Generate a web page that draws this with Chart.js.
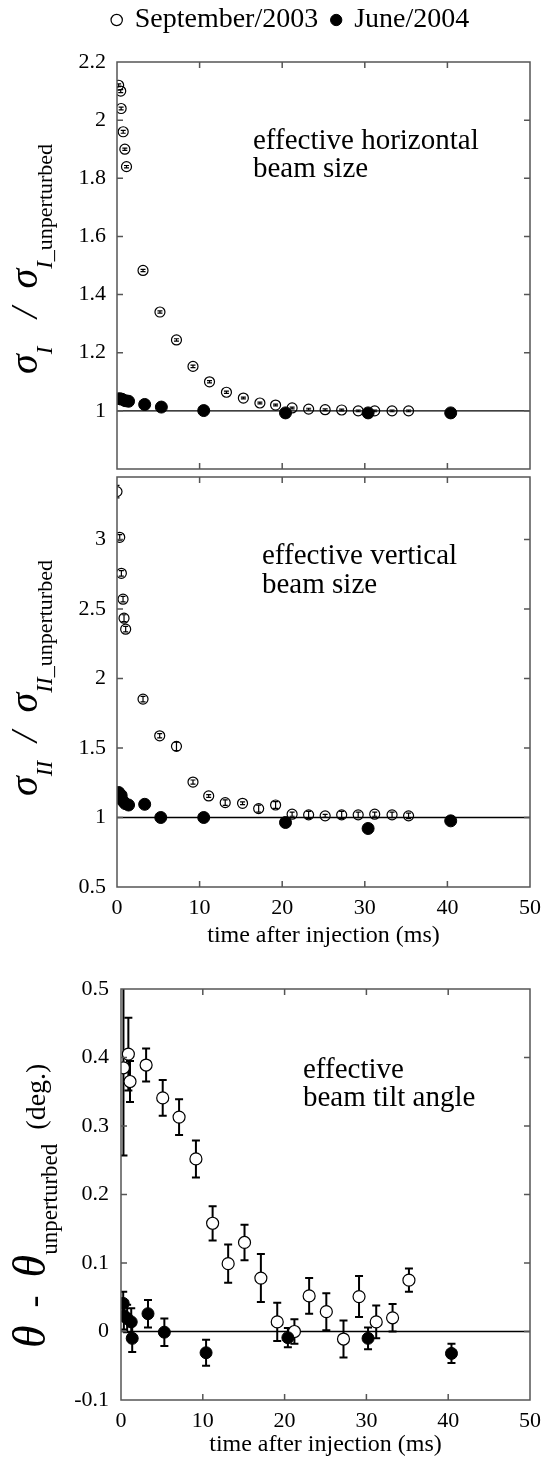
<!DOCTYPE html>
<html>
<head>
<meta charset="utf-8">
<script src="https://cdn.jsdelivr.net/npm/chart.js@4.4.1/dist/chart.umd.min.js"></script>
<style>
body { margin: 0; background: #fff; }
#wrap { position: relative; width: 544px; height: 1459px; }
canvas { position: absolute; left: 0; }
</style>
</head>
<body>
<div id="wrap">
<canvas id="chartH" width="544" height="476" style="top:0px"></canvas>
<canvas id="chartV" width="544" height="480" style="top:470px"></canvas>
<canvas id="chartT" width="544" height="499" style="top:960px"></canvas>
</div>
<script>
// ---- datos ----
const timeTicks = [0, 10, 20, 30, 40, 50];
const timeTickLabels = ['0', '10', '20', '30', '40', '50'];

// tamaño horizontal
const hTicks = [1, 1.2, 1.4, 1.6, 1.8, 2, 2.2];
const hTickLabels = ['1', '1.2', '1.4', '1.6', '1.8', '2', '2.2'];
const hSepX = [0.2, 0.45, 0.5, 0.75, 0.95, 1.15, 3.15, 5.2, 7.2, 9.2, 11.2, 13.25, 15.3, 17.3, 19.2, 21.2, 23.2, 25.2, 27.2, 29.2, 31.2, 33.3, 35.3];
const hSepY = [2.12, 2.10, 2.04, 1.96, 1.90, 1.84, 1.483, 1.34, 1.244, 1.153, 1.10, 1.064, 1.044, 1.027, 1.02, 1.01, 1.006, 1.004, 1.003, 1.0, 1.0, 1.0, 1.0];
const hSepErr = [0.005, 0.005, 0.005, 0.005, 0.004, 0.004, 0.004, 0.004, 0.004, 0.004, 0.004, 0.004, 0.003, 0.003, 0.003, 0.003, 0.003, 0.003, 0.003, 0.003, 0.003, 0.003, 0.003];
const hJunX = [0.3, 0.6, 1.0, 1.4, 3.35, 5.37, 10.5, 20.4, 30.4, 40.4];
const hJunY = [1.042, 1.040, 1.035, 1.033, 1.022, 1.013, 1.001, 0.993, 0.993, 0.993];

// tamaño vertical
const vTicks = [0.5, 1, 1.5, 2, 2.5, 3];
const vTickLabels = ['0.5', '1', '1.5', '2', '2.5', '3'];
const vSepX = [0.0, 0.33, 0.53, 0.73, 0.85, 1.05, 3.15, 5.17, 7.2, 9.2, 11.1, 13.1, 15.2, 17.15, 19.2, 21.2, 23.2, 25.2, 27.2, 29.2, 31.2, 33.3, 35.3];
const vSepY = [3.345, 3.016, 2.757, 2.571, 2.434, 2.355, 1.852, 1.588, 1.512, 1.255, 1.155, 1.107, 1.102, 1.064, 1.09, 1.024, 1.019, 1.012, 1.019, 1.019, 1.024, 1.019, 1.012];
const vSepErr = [0.045, 0.02, 0.02, 0.02, 0.025, 0.02, 0.02, 0.015, 0.03, 0.015, 0.01, 0.02, 0.01, 0.025, 0.025, 0.015, 0.025, 0.01, 0.025, 0.02, 0.015, 0.02, 0.02];
const vJunX = [0.2, 0.5, 0.7, 1.0, 1.4, 3.35, 5.3, 10.5, 20.4, 30.4, 40.4];
const vJunY = [1.18, 1.16, 1.12, 1.10, 1.09, 1.095, 1.0, 1.0, 0.964, 0.921, 0.976];

// ángulo de inclinación
const tTicks = [-0.1, 0, 0.1, 0.2, 0.3, 0.4, 0.5];
const tTickLabels = ['-0.1', '0', '0.1', '0.2', '0.3', '0.4', '0.5'];
const tSepX = [0.3, 0.9, 1.1, 3.07, 5.1, 7.1, 9.16, 11.2, 13.1, 15.1, 17.1, 19.1, 21.2, 23.0, 25.1, 27.2, 29.1, 31.2, 33.2, 35.2];
const tSepY = [0.385, 0.405, 0.365, 0.389, 0.341, 0.313, 0.252, 0.158, 0.099, 0.13, 0.078, 0.014, 0.0, 0.052, 0.029, -0.011, 0.051, 0.014, 0.02, 0.075];
const tSepErr = [0.128, 0.053, 0.03, 0.024, 0.026, 0.026, 0.027, 0.025, 0.028, 0.026, 0.035, 0.028, 0.018, 0.026, 0.027, 0.027, 0.03, 0.024, 0.02, 0.017];
const tJunX = [0.27, 0.35, 0.75, 1.25, 1.37, 3.3, 5.3, 10.4, 20.4, 30.2, 40.4];
const tJunY = [0.041, 0.023, 0.019, 0.014, -0.01, 0.026, -0.001, -0.031, -0.009, -0.01, -0.032];
const tJunErr = [0.017, 0.02, 0.02, 0.02, 0.02, 0.02, 0.02, 0.019, 0.014, 0.016, 0.014];

const SERIF = '"Liberation Serif", "DejaVu Serif", serif';

function toPoints(xs, ys) {
    return xs.map((x, i) => ({ x: x, y: ys[i] }));
}

// barras de error
const errorBars = {
    id: 'errorBars',
    beforeDatasetsDraw(chart, args, opts) {
        if (!opts.onTop) drawErrors(chart, opts);
    },
    afterDatasetsDraw(chart, args, opts) {
        if (opts.onTop) drawErrors(chart, opts);
    }
};

function drawErrors(chart, opts) {
    const ctx = chart.ctx;
    const area = chart.chartArea;
    const yScale = chart.scales.y;
    ctx.save();
    ctx.beginPath();
    ctx.rect(area.left, area.top, area.right - area.left, area.bottom - area.top);
    ctx.clip();
    ctx.strokeStyle = '#000';
    ctx.lineWidth = opts.lineWidth || 1.5;
    chart.data.datasets.forEach((ds, i) => {
        if (!ds.errors) return;
        const meta = chart.getDatasetMeta(i);
        meta.data.forEach((pt, j) => {
            const e = ds.errors[j];
            const v = ds.data[j].y;
            const y1 = yScale.getPixelForValue(v + e);
            const y2 = yScale.getPixelForValue(v - e);
            const c = opts.cap || 3;
            ctx.beginPath();
            ctx.moveTo(pt.x, y1); ctx.lineTo(pt.x, y2);
            ctx.moveTo(pt.x - c, y1); ctx.lineTo(pt.x + c, y1);
            ctx.moveTo(pt.x - c, y2); ctx.lineTo(pt.x + c, y2);
            ctx.stroke();
        });
    });
    ctx.restore();
}

// marco con marcas hacia dentro
const frameBox = {
    id: 'frameBox',
    afterDraw(chart) {
        const ctx = chart.ctx;
        const a = chart.chartArea;
        const xs = chart.scales.x;
        const ys = chart.scales.y;
        const len = 6;
        ctx.save();
        ctx.strokeStyle = '#555';
        ctx.lineWidth = 1.5;
        ctx.strokeRect(a.left, a.top, a.right - a.left, a.bottom - a.top);
        ctx.beginPath();
        xs.ticks.forEach(t => {
            const px = xs.getPixelForValue(t.value);
            if (px <= a.left + 1 || px >= a.right - 1) return;
            ctx.moveTo(px, a.top); ctx.lineTo(px, a.top + len);
            ctx.moveTo(px, a.bottom); ctx.lineTo(px, a.bottom - len);
        });
        ys.ticks.forEach(t => {
            const py = ys.getPixelForValue(t.value);
            if (py <= a.top + 1 || py >= a.bottom - 1) return;
            ctx.moveTo(a.left, py); ctx.lineTo(a.left + len, py);
            ctx.moveTo(a.right, py); ctx.lineTo(a.right - len, py);
        });
        ctx.stroke();
        ctx.restore();
    }
};

// espacio extra bajo la leyenda
const legendGap = {
    id: 'legendGap',
    beforeLayout(chart, args, opts) {
        const lg = chart.legend;
        if (!lg || lg.__gap || !opts.extra) return;
        const fit = lg.fit;
        lg.fit = function () {
            fit.call(this);
            this.height += opts.extra;
        };
        lg.__gap = true;
    }
};

// textos con subíndices y rotación
const richText = {
    id: 'richText',
    afterDraw(chart, args, opts) {
        const ctx = chart.ctx;
        (opts.items || []).forEach(item => {
            ctx.save();
            ctx.fillStyle = '#000';
            ctx.textAlign = 'left';
            ctx.textBaseline = 'alphabetic';
            ctx.translate(item.x, item.y);
            if (item.rotate) ctx.rotate(-Math.PI / 2);
            let cx = 0;
            item.runs.forEach(r => {
                ctx.font = r.font;
                ctx.fillText(r.text, cx, r.dy || 0);
                cx += ctx.measureText(r.text).width;
            });
            ctx.restore();
        });
    }
};

function makePanel(id, o) {
    const datasets = [
        {
            label: 'September/2003',
            data: toPoints(o.sepX, o.sepY),
            errors: o.sepErr,
            pointStyle: 'circle',
            pointRadius: o.openR,
            pointBorderWidth: 1.2,
            borderColor: '#000',
            backgroundColor: o.openFill,
            pointBorderColor: '#000',
            pointBackgroundColor: o.openFill,
            showLine: false,
            order: 2
        },
        {
            label: 'June/2004',
            data: toPoints(o.junX, o.junY),
            errors: o.junErr,
            pointStyle: 'circle',
            pointRadius: o.fillR,
            pointBorderWidth: 1,
            borderColor: '#000',
            backgroundColor: '#000',
            pointBackgroundColor: '#000',
            pointBorderColor: '#000',
            showLine: false,
            order: 1
        },
        {
            label: 'ref',
            data: [{ x: 0, y: o.refY }, { x: 50, y: o.refY }],
            showLine: true,
            pointRadius: 0,
            borderColor: '#000',
            borderWidth: 1.3,
            order: 3
        }
    ];

    return new Chart(document.getElementById(id), {
        type: 'scatter',
        data: { datasets: datasets },
        plugins: [errorBars, frameBox, richText, legendGap],
        options: {
            responsive: false,
            animation: false,
            devicePixelRatio: 1,
            layout: { padding: { top: o.padTop, right: 14, bottom: 0, left: o.padLeft } },
            plugins: {
                legend: {
                    display: !!o.legend,
                    labels: {
                        filter: item => item.text !== 'ref',
                        sort: (a, b) => a.datasetIndex - b.datasetIndex,
                        usePointStyle: true,
                        boxWidth: 8,
                        boxHeight: 8,
                        padding: 14,
                        color: '#000',
                        font: { family: SERIF, size: 28 }
                    }
                },
                legendGap: { extra: o.legend ? 18 : 0 },
                tooltip: { enabled: false },
                errorBars: { onTop: o.errOnTop, lineWidth: o.errWidth, cap: o.cap },
                richText: { items: o.texts }
            },
            scales: {
                x: {
                    type: 'linear',
                    min: 0,
                    max: 50,
                    afterBuildTicks: s => { s.ticks = timeTicks.map(v => ({ value: v })); },
                    afterFit: s => { s.height = o.xHeight; s.paddingLeft = 0; s.paddingRight = 0; },
                    grid: { display: false, drawTicks: false },
                    border: { display: false },
                    ticks: {
                        display: o.showX,
                        autoSkip: false,
                        maxRotation: 0,
                        padding: 8,
                        color: '#000',
                        font: { family: SERIF, size: 22 },
                        callback: (v, i) => timeTickLabels[i]
                    },
                    title: {
                        display: o.showX,
                        text: 'time after injection (ms)',
                        color: '#000',
                        font: { family: SERIF, size: 24 },
                        padding: 0
                    }
                },
                y: {
                    type: 'linear',
                    min: o.yMin,
                    max: o.yMax,
                    afterBuildTicks: s => { s.ticks = o.yTicks.map(v => ({ value: v })); },
                    afterFit: s => { s.width = o.yWidth - o.padLeft; s.paddingTop = 0; s.paddingBottom = 0; },
                    grid: { display: false, drawTicks: false },
                    border: { display: false },
                    ticks: {
                        autoSkip: false,
                        padding: o.yPad,
                        color: '#000',
                        font: { family: SERIF, size: 22 },
                        callback: (v, i) => o.yLabels[i]
                    }
                }
            }
        }
    });
}

const ital = s => 'italic ' + s + 'px ' + SERIF;
const rom = s => s + 'px ' + SERIF;

makePanel('chartH', {
    sepX: hSepX, sepY: hSepY, sepErr: hSepErr,
    junX: hJunX, junY: hJunY, junErr: null,
    refY: 1, yMin: 0.8, yMax: 2.2, yTicks: hTicks, yLabels: hTickLabels,
    yWidth: 117, padLeft: 52, yPad: 11, padTop: -8, xHeight: 6, showX: false, legend: true,
    openR: 5, fillR: 6, openFill: 'rgba(255,255,255,0)', errOnTop: true, errWidth: 1.2, cap: 2.5,
    texts: [
        { x: 253, y: 149, runs: [{ text: 'effective horizontal', font: rom(29) }] },
        { x: 253, y: 177, runs: [{ text: 'beam size', font: rom(29) }] },
        { x: 37, y: 374, rotate: true, runs: [
            { text: 'σ', font: ital(40) },
            { text: 'I', font: ital(23), dy: 15 },
            { text: '   /  ', font: ital(38) },
            { text: 'σ', font: ital(40) },
            { text: 'I', font: ital(23), dy: 15 },
            { text: '_unperturbed', font: rom(22), dy: 15 }
        ] }
    ]
});

makePanel('chartV', {
    sepX: vSepX, sepY: vSepY, sepErr: vSepErr,
    junX: vJunX, junY: vJunY, junErr: null,
    refY: 1, yMin: 0.5, yMax: 3.45, yTicks: vTicks, yLabels: vTickLabels,
    yWidth: 117, padLeft: 0, yPad: 11, padTop: 5, xHeight: 63, showX: true, legend: false,
    openR: 5, fillR: 6, openFill: 'rgba(255,255,255,0)', errOnTop: true, errWidth: 1.2, cap: 2.5,
    texts: [
        { x: 262, y: 94, runs: [{ text: 'effective vertical', font: rom(29) }] },
        { x: 262, y: 123, runs: [{ text: 'beam size', font: rom(29) }] },
        { x: 37, y: 326, rotate: true, runs: [
            { text: 'σ', font: ital(40) },
            { text: 'II', font: ital(23), dy: 15 },
            { text: '  /  ', font: ital(38) },
            { text: 'σ', font: ital(40) },
            { text: 'II', font: ital(23), dy: 15 },
            { text: '_unperturbed', font: rom(22), dy: 15 }
        ] }
    ]
});

makePanel('chartT', {
    sepX: tSepX, sepY: tSepY, sepErr: tSepErr,
    junX: tJunX, junY: tJunY, junErr: tJunErr,
    refY: 0, yMin: -0.1, yMax: 0.5, yTicks: tTicks, yLabels: tTickLabels,
    yWidth: 121, padLeft: 0, yPad: 12, padTop: 29, xHeight: 59, showX: true, legend: false,
    openR: 6, fillR: 6, openFill: '#fff', errOnTop: false, errWidth: 2, cap: 4,
    texts: [
        { x: 303, y: 118, runs: [{ text: 'effective', font: rom(29) }] },
        { x: 303, y: 146, runs: [{ text: 'beam tilt angle', font: rom(29) }] },
        { x: 45, y: 388, rotate: true, runs: [
            { text: 'θ', font: ital(46) },
            { text: '  -  ', font: rom(36) },
            { text: 'θ', font: ital(46) },
            { text: 'unperturbed', font: rom(23), dy: 12 },
            { text: '  (deg.)', font: rom(28) }
        ] }
    ]
});
</script>
</body>
</html>
